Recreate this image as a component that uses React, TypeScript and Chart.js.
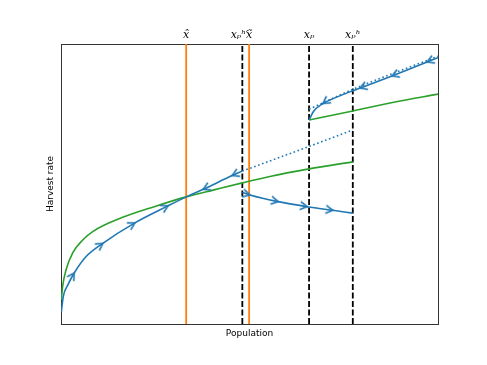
import React, { useEffect, useRef } from 'react';
import { Chart, registerables } from 'chart.js';
Chart.register(...registerables);

const BLUE = '#1f77b4';
const GREEN = '#2ca02c';
const ORANGE = '#ff7f0e';
const BLACK = '#000000';
const SPINE = '#333333';

// vertical reference lines (population values)
const orangeLines = [33.2, 49.9];
const blackLines = [48.1, 65.8, 77.4];

// top axis labels
const topTickValues = [33.2, 48.1, 49.9, 65.8, 77.4];
const topTickLabels = ['x\u0302', 'x\u209A\u02B0\u2032\u2002', 'x\u0303', 'x\u209A', 'x\u209A\u02B0'];

// green curves [population, harvest]
const greenLow: [number, number][] = [
  [0.1, 8.6], [0.2, 10.2], [0.45, 13.6], [1.33, 19.3], [3.1, 25.4], [5.76, 30.0],
  [8.41, 33.0], [16.18, 38.0], [24.93, 42.0], [33.2, 45.4], [40.6, 47.9],
  [48.1, 50.4], [55.4, 52.7], [65.8, 55.4], [77.4, 57.9],
];
const greenHigh: [number, number][] = [
  [65.8, 72.86], [77.4, 76.1], [88.6, 79.3], [100, 82.1],
];

// blue trajectories
const blueLow: [number, number][] = [
  [0.1, 4.4], [0.6, 9.8], [1.8, 13.9], [3.5, 18.2], [6.6, 24.0], [11.1, 28.8],
  [19.6, 36.1], [28.4, 42.2], [33.2, 45.4], [37.7, 48.1], [45.4, 53.0], [48.1, 54.6],
];
const blueLowArrowIdx = [3, 5, 6, 7, 9, 10];
const blueLowArrowDir = [1, 1, 1, 1, -1, -1];

const blueMid: [number, number][] = [
  [48.1, 47.0], [50.1, 46.1], [57.6, 43.7], [65.3, 41.9], [72.1, 40.6], [77.4, 39.6],
];
const blueMidArrowIdx = [1, 2, 3, 4];
const blueMidArrowDir = [1, 1, 1, 1];

const blueHigh: [number, number][] = [
  [65.8, 72.86], [66.92, 75.82], [69.5, 78.75], [71.35, 80.0], [77.4, 83.3],
  [79.3, 84.25], [87.8, 88.6], [97.1, 93.6], [100, 95.1],
];
const blueHighArrowIdx = [2, 5, 6, 7];
const blueHighArrowDir = [-1, -1, -1, -1];

const blueDotLow: [number, number][] = [[48.1, 54.6], [63.4, 62.2], [77.4, 69.3]];
const blueDotHigh: [number, number][] = [[65.8, 76.7], [77.4, 83.8], [100, 95.6]];

export default function App() {
  const ref = useRef<HTMLCanvasElement>(null);

  useEffect(() => {
    const canvas = ref.current;
    if (!canvas) return;

    const chevron = document.createElement('canvas');
    chevron.width = 18;
    chevron.height = 18;
    const g = chevron.getContext('2d');
    if (g) {
      g.strokeStyle = BLUE;
      g.lineWidth = 1.5;
      g.lineJoin = 'miter';
      g.beginPath();
      g.moveTo(9 - 7, 9 - 4);
      g.lineTo(9, 9);
      g.lineTo(9 - 7, 9 + 4);
      g.stroke();
    }

    const vline = (x: number, color: string, dash: number[]) => ({
      type: 'line' as const,
      data: [{ x, y: 0 }, { x, y: 100 }],
      borderColor: color,
      borderWidth: 1.8,
      borderDash: dash,
      pointRadius: 0,
      tension: 0,
      order: 5,
    });

    const curve = (
      pts: [number, number][],
      color: string,
      dash: number[],
      order: number,
      arrowIdx: number[] = [],
      arrowDir: number[] = []
    ) => ({
      type: 'line' as const,
      data: pts.map(([x, y]) => ({ x, y })),
      borderColor: color,
      borderWidth: 1.6,
      borderDash: dash,
      cubicInterpolationMode: 'monotone' as const,
      pointStyle: chevron,
      pointRadius: (c: any) =>
        c.type === 'data' && arrowIdx.includes(c.dataIndex) ? 4 : 0,
      pointRotation: (c: any) => {
        if (c.type !== 'data') return 0;
        const i = c.dataIndex;
        const k = arrowIdx.indexOf(i);
        if (k < 0) return 0;
        const xs = c.chart.scales.x;
        const ys = c.chart.scales.y;
        const a = pts[Math.max(i - 1, 0)];
        const b = pts[Math.min(i + 1, pts.length - 1)];
        const dx = xs.getPixelForValue(b[0]) - xs.getPixelForValue(a[0]);
        const dy = ys.getPixelForValue(b[1]) - ys.getPixelForValue(a[1]);
        let ang = (Math.atan2(dy, dx) * 180) / Math.PI;
        if (arrowDir[k] < 0) ang += 180;
        return ang;
      },
      order,
    });

    Chart.defaults.font.family = 'DejaVu Sans';
    Chart.defaults.color = '#000';

    const datasets: any[] = [
      ...orangeLines.map((x) => vline(x, ORANGE, [])),
      ...blackLines.map((x) => vline(x, BLACK, [5.9, 2.6])),
      curve(greenLow, GREEN, [], 3),
      curve(greenHigh, GREEN, [], 3),
      curve(blueDotLow, BLUE, [1.6, 2.6], 2),
      curve(blueDotHigh, BLUE, [1.6, 2.6], 2),
      curve(blueLow, BLUE, [], 1, blueLowArrowIdx, blueLowArrowDir),
      curve(blueMid, BLUE, [], 1, blueMidArrowIdx, blueMidArrowDir),
      curve(blueHigh, BLUE, [], 1, blueHighArrowIdx, blueHighArrowDir),
    ];

    const border = { display: true, color: SPINE, width: 1 };

    const chart = new Chart(canvas, {
      type: 'line',
      data: { datasets },
      options: {
        animation: false,
        responsive: false,
        devicePixelRatio: 1,
        events: [],
        layout: { padding: 0 },
        plugins: { legend: { display: false }, tooltip: { enabled: false } },
        scales: {
          x: {
            type: 'linear',
            position: 'bottom',
            min: 0,
            max: 100,
            grid: { display: false, drawTicks: false },
            ticks: { display: false },
            border,
            title: {
              display: true,
              text: 'Population',
              color: '#000',
              font: { size: 9 },
              padding: { top: 0, bottom: 26 },
            },
            afterFit: (s: any) => {
              s.height = 41;
            },
          },
          xTop: {
            type: 'linear',
            position: 'top',
            min: 0,
            max: 100,
            grid: { display: false, drawTicks: false },
            border,
            ticks: {
              autoSkip: false,
              maxRotation: 0,
              padding: 2,
              color: '#000',
              font: { family: 'DejaVu Serif', style: 'italic', size: 11 },
              callback: (_v: any, i: number) => topTickLabels[i] ?? '',
            },
            afterBuildTicks: (s: any) => {
              s.ticks = topTickValues.map((v) => ({ value: v }));
            },
            afterFit: (s: any) => {
              s.height = 44;
            },
          },
          y: {
            type: 'linear',
            position: 'left',
            min: 0,
            max: 100,
            grid: { display: false, drawTicks: false },
            ticks: { display: false },
            border,
            title: {
              display: true,
              text: 'Harvest rate',
              color: '#000',
              font: { size: 9 },
              padding: { top: 45, bottom: 0 },
            },
            afterFit: (s: any) => {
              s.width = 61;
            },
          },
          yRight: {
            type: 'linear',
            position: 'right',
            min: 0,
            max: 100,
            grid: { display: false, drawTicks: false },
            ticks: { display: false },
            border,
            afterFit: (s: any) => {
              s.width = 49;
            },
          },
        },
      } as any,
    });

    return () => chart.destroy();
  }, []);

  return (
    <div style={{ position: 'fixed', left: 0, top: 0, width: 487, height: 365, background: '#fff' }}>
      <canvas ref={ref} width={487} height={365} style={{ display: 'block' }} />
    </div>
  );
}
